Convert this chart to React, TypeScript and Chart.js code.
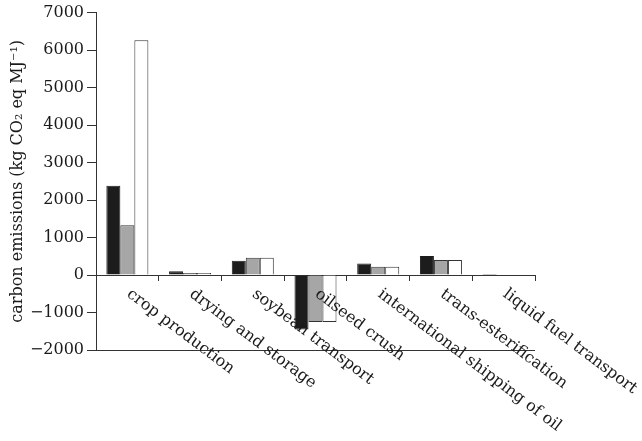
import React, { useEffect, useRef } from "react";
import { Chart, registerables } from "chart.js";

Chart.register(...registerables);

const categories = [
  "crop production",
  "drying and storage",
  "soybean transport",
  "oilseed crush",
  "international shipping of oil",
  "trans-esterification",
  "liquid fuel transport",
];
const seriesA = [2380, 100, 380, -1450, 310, 505, 25];
const seriesB = [1330, 55, 460, -1250, 220, 400, 0];
const seriesC = [6260, 55, 460, -1250, 220, 400, 0];
const yTicks = [7000, 6000, 5000, 4000, 3000, 2000, 1000, 0, -1000, -2000];
const yTitle = "carbon emissions (kg CO\u2082 eq MJ\u207B\u00B9)";

const FONT = "'DejaVu Serif', 'Liberation Serif', serif";

const labelPlugin = {
  id: "rotLabels",
  afterDraw(chart: any) {
    const ctx = chart.ctx;
    const xs = chart.scales.x;
    const ys = chart.scales.y;
    const y0 = ys.getPixelForValue(0);
    ctx.save();
    ctx.font = `16px ${FONT}`;
    ctx.fillStyle = "#1a1a1a";
    ctx.textAlign = "left";
    ctx.textBaseline = "top";
    categories.forEach((c, i) => {
      const x = xs.getPixelForValue(i);
      ctx.save();
      ctx.translate(x + 6, y0 + 11);
      ctx.rotate((37 * Math.PI) / 180);
      ctx.fillText(c, 0, 0);
      ctx.restore();
    });
    ctx.restore();
  },
};

export default function App() {
  const ref = useRef<HTMLCanvasElement>(null);
  useEffect(() => {
    if (!ref.current) return;
    const chart = new Chart(ref.current, {
      type: "bar",
      data: {
        labels: categories,
        datasets: [
          { data: seriesA, backgroundColor: "#1c1c1c", borderColor: "#1c1c1c", borderWidth: 1 },
          { data: seriesB, backgroundColor: "#a6a6a6", borderColor: "#333", borderWidth: 1 },
          { data: seriesC, backgroundColor: "#ffffff", borderColor: "#333", borderWidth: 1 },
        ],
      },
      options: {
        animation: false,
        responsive: false,
        maintainAspectRatio: false,
        layout: { padding: { left: 0, top: 12, right: 107, bottom: 91 } },
        plugins: {
          legend: { display: false },
          tooltip: { enabled: false },
        },
        datasets: { bar: { categoryPercentage: 0.67, barPercentage: 1 } },
        scales: {
          x: {
            position: { y: 0 } as any,
            offset: true,
            ticks: { display: false },
            grid: {
              offset: true,
              drawOnChartArea: false,
              drawTicks: true,
              tickLength: 5,
              color: "#333",
              tickColor: "#333",
            },
            border: { display: true, color: "#333", width: 1 },
          },
          y: {
            min: -2000,
            max: 7000,
            afterFit: (s: any) => {
              s.width = 96;
            },
            afterBuildTicks: (s: any) => {
              s.ticks = yTicks.map((v) => ({ value: v }));
            },
            ticks: {
              font: { family: FONT, size: 16 },
              color: "#1a1a1a",
              padding: 3,
              callback: (v: any) => (Number(v) < 0 ? "\u2212" + Math.abs(Number(v)) : String(v)),
            },
            grid: {
              drawOnChartArea: true,
              tickLength: 9,
              color: (c: any) => (c.tick && c.tick.value === -2000 ? "#333" : "rgba(0,0,0,0)"),
              tickColor: "#333",
            },
            border: { display: true, color: "#333", width: 1 },
            title: {
              display: true,
              text: yTitle,
              font: { family: FONT, size: 16 },
              color: "#1a1a1a",
              padding: { top: 8, bottom: 0 },
            },
          },
        },
      },
      plugins: [labelPlugin],
    });
    return () => chart.destroy();
  }, []);
  return (
    <div style={{ position: "fixed", left: 0, top: 0, width: 642, height: 441 }}>
      <canvas ref={ref} width={642} height={441} style={{ width: 642, height: 441 }} />
    </div>
  );
}
